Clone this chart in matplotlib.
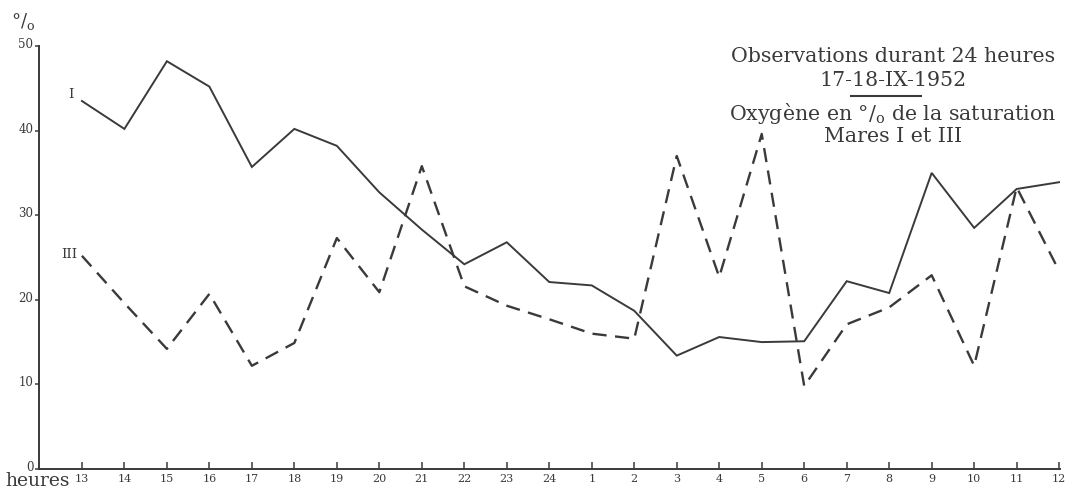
import matplotlib
matplotlib.use("Agg")
import matplotlib.pyplot as plt
import matplotlib.transforms as mtransforms

hours = ["13", "14", "15", "16", "17", "18", "19", "20", "21", "22", "23", "24",
         "1", "2", "3", "4", "5", "6", "7", "8", "9", "10", "11", "12"]
mare_I = [43.5, 40.2, 48.2, 45.2, 35.7, 40.2, 38.2, 32.7, 28.3, 24.2, 26.8, 22.1,
          21.7, 18.7, 13.4, 15.6, 15.0, 15.1, 22.2, 20.8, 35.0, 28.5, 33.1, 33.9]
mare_III = [25.2, 19.6, 14.2, 20.7, 12.2, 14.9, 27.3, 20.9, 35.8, 21.6, 19.3, 17.7,
            16.0, 15.4, 37.0, 22.7, 39.6, 9.8, 17.1, 19.1, 22.9, 12.2, 33.3, 23.4]
y_ticks = [0, 10, 20, 30, 40, 50]

ink = "#3a3a3a"
serif = ["DejaVu Serif"]

W, H = 1073, 489
fig = plt.figure(figsize=(W / 100, H / 100), dpi=100)
fig.patch.set_facecolor("white")
x0, x1, ytop, ybot = 39, 1060, 47, 470
ax = fig.add_axes([x0 / W, (H - ybot) / H, (x1 - x0) / W, (ybot - ytop) / H])
ax.set_facecolor("white")

xs = list(range(len(hours)))
ax.plot(xs, mare_I, color=ink, lw=1.4, solid_joinstyle="miter")
ax.plot(xs, mare_III, color=ink, lw=1.7, linestyle=(0, (6, 3.6)))

ax.set_xlim(-1.01, 23.02)
ax.set_ylim(0, 50)
for s in ["top", "right"]:
    ax.spines[s].set_visible(False)
for s in ["left", "bottom"]:
    ax.spines[s].set_color(ink)
    ax.spines[s].set_linewidth(1.4)

ax.set_xticks(xs)
ax.set_xticklabels(hours, family=serif, fontsize=8, color=ink)
ax.tick_params(axis="x", direction="in", length=5, width=1.1, colors=ink, pad=3)
ax.set_yticks(y_ticks)
ax.set_yticklabels([str(v) for v in y_ticks], family=serif, fontsize=8.5, color=ink)
ax.tick_params(axis="y", direction="out", length=3, width=1.1, colors=ink, pad=1)
shift = mtransforms.ScaledTranslation(0, 4 / 100, fig.dpi_scale_trans)
for lab in ax.get_yticklabels():
    lab.set_transform(lab.get_transform() + shift)

ax.text(-0.2, mare_I[0] + 0.9, "I", family=serif, fontsize=9.5, color=ink,
        ha="right", va="center")
ax.text(-0.1, mare_III[0] + 0.3, "III", family=serif, fontsize=9.5, color=ink,
        ha="right", va="center")

fig.text(5 / W, 1 - 486 / H, "heures", family=serif, fontsize=13.5, color=ink,
         ha="left", va="baseline")
fig.text(11 / W, 1 - 22 / H, "°/$_\\mathregular{o}$", family=serif, fontsize=13,
         color=ink, ha="left", va="center")

cx = 893 / W
fs = 14.8
fig.text(cx, 1 - 56 / H, "Observations durant 24 heures", family=serif,
         fontsize=fs, color=ink, ha="center", va="center")
fig.text(cx, 1 - 80 / H, "17-18-IX-1952", family=serif, fontsize=fs,
         color=ink, ha="center", va="center")
fig.add_artist(plt.Line2D([851 / W, 921 / W], [1 - 97 / H, 1 - 97 / H],
                          color=ink, lw=1.5))
fig.text(cx, 1 - 113 / H, "Oxygène en °/$_\\mathregular{o}$ de la saturation",
         family=serif, fontsize=fs, color=ink, ha="center", va="center")
fig.text(cx, 1 - 137 / H, "Mares I et III", family=serif, fontsize=fs,
         color=ink, ha="center", va="center")

fig.savefig("out.png", dpi=100, facecolor="white")
